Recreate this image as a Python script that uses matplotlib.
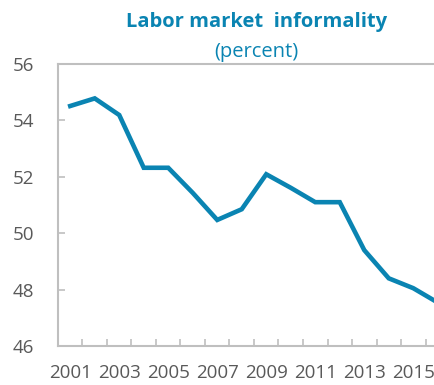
import matplotlib
matplotlib.use("Agg")
from matplotlib import pyplot as plt
import numpy as np

years = list(range(2001, 2017))
informality = [54.51, 54.78, 54.19, 52.32, 52.32, 51.43, 50.47, 50.85,
               52.09, 51.61, 51.10, 51.10, 49.40, 48.40, 48.05, 47.54]
yticks = [46, 48, 50, 52, 54, 56]

BLUE = '#0A84B2'
GREY_TXT = '#595959'
GREY_AX = '#BFBFBF'

plt.rcParams['font.family'] = ['Open Sans', 'DejaVu Sans']

fig = plt.figure(figsize=(4.35, 3.85), dpi=100)
# axes run past the right edge of the figure, so the last year is clipped
ax = fig.add_axes([0.1333, 0.1013, 0.9012, 0.7325])

x = np.arange(len(years))
ax.plot(x, informality, color=BLUE, linewidth=3.3, solid_joinstyle='miter',
        clip_on=False)

ax.set_ylim(46, 56)
ax.set_yticks(yticks)
ax.set_yticklabels([str(v) for v in yticks])
ax.set_xlim(-0.5, len(years) - 0.5)

# category boundaries get the tick marks, every other year gets a label
ax.set_xticks(np.arange(-0.5, len(years)), minor=False)
ax.set_xticklabels([])
ax.set_xticks(x[::2], minor=True)
ax.set_xticklabels([str(y) for y in years[::2]], minor=True)

ax.tick_params(axis='x', which='major', direction='in', length=5,
               width=1.2, color=GREY_AX)
ax.tick_params(axis='x', which='minor', length=0, pad=13,
               labelsize=13.5, labelcolor=GREY_TXT)
ax.tick_params(axis='y', direction='in', length=5, width=1.2, color=GREY_AX,
               pad=17, labelsize=13.5, labelcolor=GREY_TXT)

for side in ['left', 'bottom', 'top', 'right']:
    ax.spines[side].set_color(GREY_AX)
    ax.spines[side].set_linewidth(1.5)

fig.text(0.589, 0.943, 'Labor market  informality', ha='center', va='center',
         fontsize=14.5, fontweight='bold', color=BLUE)
fig.text(0.589, 0.866, '(percent)', ha='center', va='center',
         fontsize=14.5, color=BLUE)

fig.savefig('out.png', dpi=100)
